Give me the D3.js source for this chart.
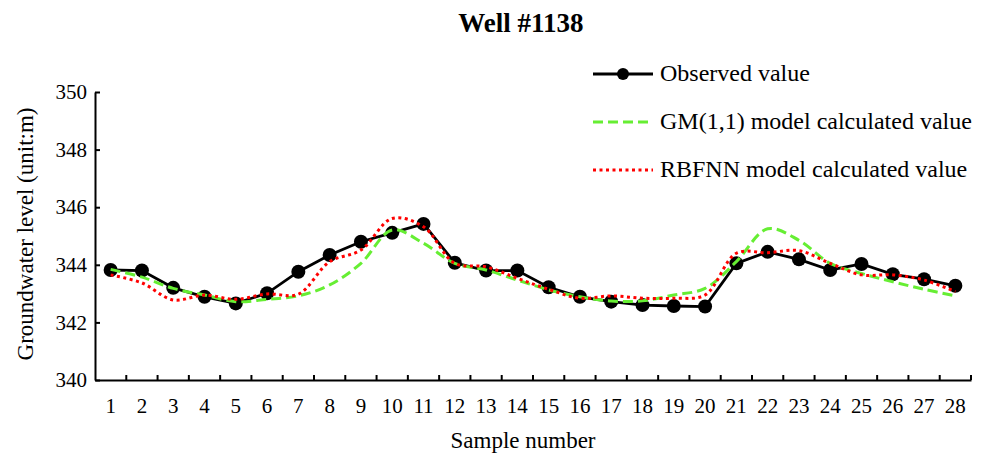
<!DOCTYPE html>
<html>
<head>
<meta charset="utf-8">
<script src="https://cdn.jsdelivr.net/npm/d3@7"></script>
<style>
  body { margin: 0; background: #fff; }
  svg { display: block; font-family: "Liberation Serif", "Times New Roman", serif; }
  .axis path, .axis line { stroke: #000; stroke-width: 2; }
  .axis text { font-family: "Liberation Serif", "Times New Roman", serif; font-size: 21px; fill: #000; }
</style>
</head>
<body>
<div id="app"></div>
<script>
const samples = d3.range(1, 29);

const observed = [343.82, 343.80, 343.20, 342.89, 342.66, 343.01, 343.76, 344.34, 344.80, 345.11,
  345.42, 344.07, 343.80, 343.80, 343.22, 342.89, 342.72, 342.60, 342.57, 342.55,
  344.05, 344.45, 344.19, 343.82, 344.03, 343.67, 343.50, 343.27];

const gm11 = [343.84, 343.57, 343.18, 342.95, 342.72, 342.80, 342.92, 343.30, 344.05, 345.21,
  344.75, 344.05, 343.82, 343.47, 343.13, 342.89, 342.74, 342.75, 342.95, 343.18,
  344.11, 345.25, 344.85, 344.05, 343.70, 343.41, 343.15, 342.92];

const rbfnn = [343.65, 343.37, 342.78, 342.95, 342.80, 342.99, 342.98, 344.11, 344.51, 345.61,
  345.32, 344.05, 343.93, 343.53, 343.15, 342.84, 342.92, 342.84, 342.84, 342.95,
  344.40, 344.42, 344.49, 344.05, 343.65, 343.65, 343.47, 343.07];

const yTicks = [340, 342, 344, 346, 348, 350];
const seriesNames = ["Observed value", "GM(1,1) model calculated value", "RBFNN model calculated value"];

const width = 981
    , height = 456
    , plotLeft = 95
    , plotRight = 971
    , plotTop = 92
    , plotBottom = 380;

const svg = d3.select("#app").append("svg")
    .attr("width", width)
    .attr("height", height);

const x = d3.scaleBand()
    .domain(samples)
    .range([plotLeft, plotRight])
    .padding(0);

const y = d3.scaleLinear()
    .domain([340, 350])
    .range([plotBottom, plotTop]);

const cx = d => x(d) + x.bandwidth() / 2;

// y axis
svg.append("g")
    .attr("class", "axis")
    .attr("transform", `translate(${plotLeft},0)`)
    .call(d3.axisLeft(y).tickValues(yTicks).tickSize(-5).tickPadding(8).tickSizeOuter(0));

// x axis: labels centred, ticks on category boundaries
const xAxis = svg.append("g")
    .attr("class", "axis")
    .attr("transform", `translate(0,${plotBottom})`)
    .call(d3.axisBottom(x).tickSize(0).tickPadding(18).tickSizeOuter(0));

xAxis.selectAll(".boundary")
    .data(samples)
  .enter().append("line")
    .attr("class", "boundary")
    .attr("x1", d => x(d) + x.bandwidth())
    .attr("x2", d => x(d) + x.bandwidth())
    .attr("y1", 0)
    .attr("y2", -5)
    .attr("stroke", "#000")
    .attr("stroke-width", 2);

const lineFor = (vals, curve) => d3.line()
    .x((v, i) => cx(samples[i]))
    .y(v => y(v))
    .curve(curve)(vals);

// observed
svg.append("path")
    .attr("d", lineFor(observed, d3.curveLinear))
    .attr("fill", "none")
    .attr("stroke", "#000")
    .attr("stroke-width", 2.8);

svg.append("g").selectAll("circle")
    .data(observed)
  .enter().append("circle")
    .attr("cx", (v, i) => cx(samples[i]))
    .attr("cy", v => y(v))
    .attr("r", 7)
    .attr("fill", "#000");

// GM(1,1)
svg.append("path")
    .attr("d", lineFor(gm11, d3.curveCatmullRom.alpha(0.5)))
    .attr("fill", "none")
    .attr("stroke", "#66ee33")
    .attr("stroke-width", 3)
    .attr("stroke-dasharray", "10,5");

// RBFNN
svg.append("path")
    .attr("d", lineFor(rbfnn, d3.curveCatmullRom.alpha(0.5)))
    .attr("fill", "none")
    .attr("stroke", "#ff0000")
    .attr("stroke-width", 3)
    .attr("stroke-dasharray", "3,3.5");

// title
svg.append("text")
    .attr("x", 521)
    .attr("y", 32)
    .attr("text-anchor", "middle")
    .style("font-size", "27px")
    .style("font-weight", "bold")
    .text("Well #1138");

// axis titles
svg.append("text")
    .attr("x", 523)
    .attr("y", 448)
    .attr("text-anchor", "middle")
    .style("font-size", "23px")
    .text("Sample number");

svg.append("text")
    .attr("transform", "translate(33,234) rotate(-90)")
    .attr("text-anchor", "middle")
    .style("font-size", "23px")
    .text("Groundwater level (unit:m)");

// legend
const legendY = [74, 122, 170];
const legendStyles = [
  { stroke: "#000", dash: null, width: 2.8 },
  { stroke: "#66ee33", dash: "10,5", width: 3 },
  { stroke: "#ff0000", dash: "3,3.5", width: 3 }
];

const legend = svg.append("g")
    .selectAll("g")
    .data(seriesNames)
  .enter().append("g")
    .attr("transform", (d, i) => `translate(0,${legendY[i]})`);

legend.append("line")
    .attr("x1", 593)
    .attr("x2", 653)
    .attr("stroke", (d, i) => legendStyles[i].stroke)
    .attr("stroke-width", (d, i) => legendStyles[i].width)
    .attr("stroke-dasharray", (d, i) => legendStyles[i].dash);

legend.filter((d, i) => i === 0).append("circle")
    .attr("cx", 623)
    .attr("r", 6)
    .attr("fill", "#000");

legend.append("text")
    .attr("x", 660)
    .attr("y", 7)
    .style("font-size", "24px")
    .text(d => d);
</script>
</body>
</html>
